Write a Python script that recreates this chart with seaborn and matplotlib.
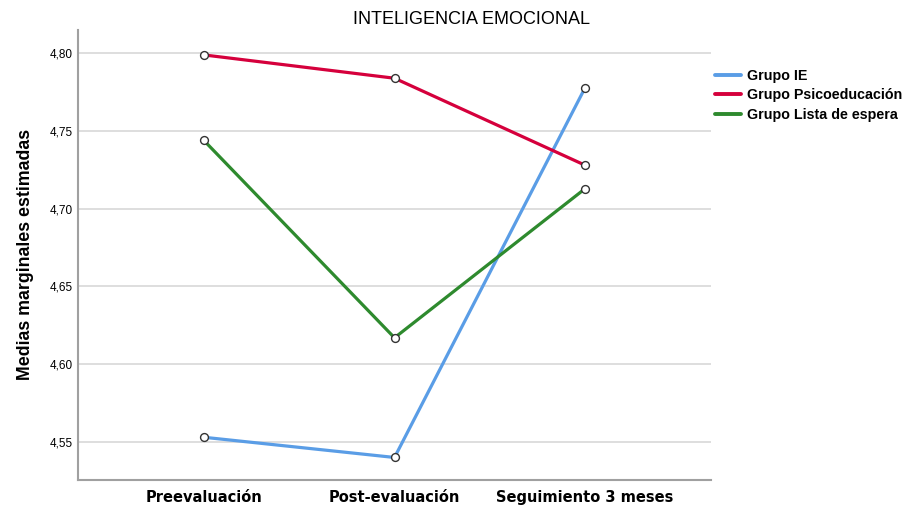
import pandas as pd
import matplotlib.pyplot as plt
import seaborn as sns
from matplotlib.ticker import FuncFormatter

# datos
momentos = ["Preevaluación", "Post-evaluación", "Seguimiento 3 meses"]
grupos = ["Grupo IE", "Grupo Psicoeducación", "Grupo Lista de espera"]
grupo_ie = [4.553, 4.540, 4.778]
grupo_psico = [4.799, 4.784, 4.728]
grupo_espera = [4.744, 4.617, 4.713]
colores = ["#5A9DE6", "#D5003C", "#2E8A2E"]

df = pd.DataFrame({
    "momento": momentos * 3,
    "grupo": [g for g in grupos for _ in momentos],
    "media": grupo_ie + grupo_psico + grupo_espera,
})
df["x"] = df["momento"].map({m: i for i, m in enumerate(momentos)})

sns.set_style("white")
plt.rcParams["font.family"] = ["Liberation Sans", "DejaVu Sans"]
plt.rcParams["text.color"] = "black"
plt.rcParams["xtick.color"] = "black"
plt.rcParams["ytick.color"] = "black"

fig = plt.figure(figsize=(9.09, 5.05), dpi=100)
ax = fig.add_axes([0.0858, 0.0495, 0.6964, 0.891])

paleta = dict(zip(grupos, colores))
sns.lineplot(data=df, x="x", y="media", hue="grupo", palette=paleta,
             linewidth=2.3, ax=ax)
sns.scatterplot(data=df, x="x", y="media", color="white", edgecolor="#333333",
                linewidth=1.0, s=32, zorder=5, legend=False, ax=ax)

ax.set_xlim(-0.66, 2.66)
ax.set_ylim(4.5255, 4.815)
ax.set_yticks([4.55, 4.60, 4.65, 4.70, 4.75, 4.80])
ax.yaxis.set_major_formatter(FuncFormatter(lambda v, p: f"{v:.2f}".replace(".", ",")))
ax.set_xticks(range(len(momentos)))
ax.set_xticklabels(momentos, fontsize=10.5, fontweight="bold", family="DejaVu Sans")
ax.tick_params(axis="y", labelsize=8.5, length=0, pad=4)
ax.tick_params(axis="x", length=0, pad=7)
ax.grid(axis="y", color="#d4d4d4", linewidth=1.1)
ax.set_axisbelow(True)
ax.set_xlabel("")
ax.set_ylabel("")
for lado in ["top", "right"]:
    ax.spines[lado].set_visible(False)
for lado in ["left", "bottom"]:
    ax.spines[lado].set_color("#a0a0a0")
    ax.spines[lado].set_linewidth(1.5)

fig.text(0.519, 0.962, "INTELIGENCIA EMOCIONAL", ha="center", va="center", fontsize=13)
fig.text(0.028, 0.496, "Medias marginales estimadas", rotation=90, ha="center",
         va="center", fontsize=12.8, fontweight="bold")

handles, labels = ax.get_legend_handles_labels()
leg = ax.legend(handles, labels, loc="upper left", bbox_to_anchor=(0.998, 0.927),
                frameon=False, handlelength=1.8, handletextpad=0.4, labelspacing=0.4,
                borderaxespad=0, prop={"weight": "bold", "size": 10.3})
for linea in leg.get_lines():
    linea.set_linewidth(2.8)

plt.savefig("out.png", dpi=100)
